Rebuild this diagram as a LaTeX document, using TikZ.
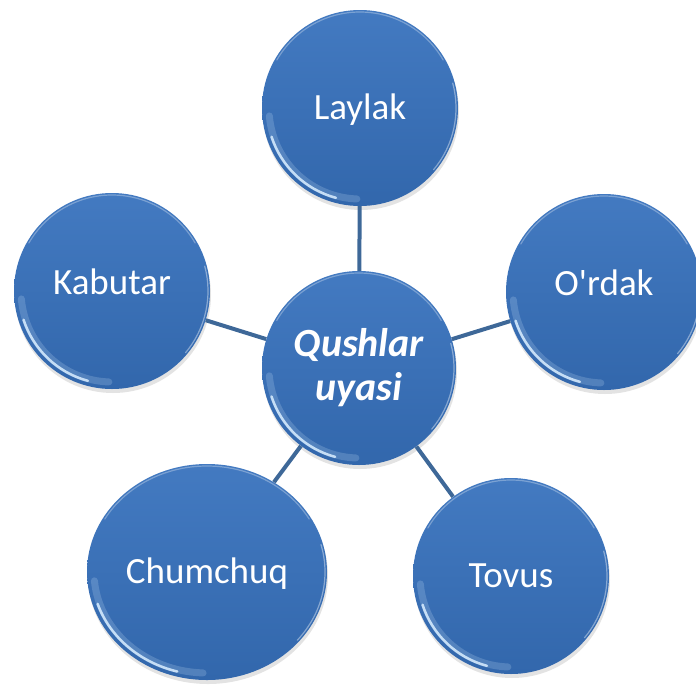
\documentclass[tikz,border=0pt]{standalone}
\usepackage{fontspec}
\setmainfont{Carlito}[Ligatures=TeXOff]
\usetikzlibrary{shapes,shadows,calc}

\definecolor{bubbletop}{RGB}{67,122,193}
\definecolor{bubblebot}{RGB}{50,103,172}
\definecolor{spoke}{RGB}{62,104,152}
\definecolor{rimlight}{RGB}{210,232,252}

\begin{document}
\begin{tikzpicture}[x=1pt,y=1pt]
	\tikzset{
		rimglow/.style={path picture={
			\draw[line width=7pt,draw=rimlight,opacity=.2,line cap=round]
				let \p1=(path picture bounding box.north east),
				    \p0=(path picture bounding box.center),
				    \n1={\x1-\x0-7pt}, \n2={\y1-\y0-7pt}
				in ($(\p0)+(185:\n1 and \n2)$) arc[start angle=185,end angle=268,x radius=\n1,y radius=\n2];
			\draw[line width=2.5pt,draw=rimlight,opacity=.9,line cap=round]
				let \p1=(path picture bounding box.north east),
				    \p0=(path picture bounding box.center),
				    \n1={\x1-\x0-5pt}, \n2={\y1-\y0-5pt}
				in ($(\p0)+(198:\n1 and \n2)$) arc[start angle=198,end angle=255,x radius=\n1,y radius=\n2];
			\draw[line width=1.2pt,draw=white,opacity=.3,line cap=round]
				let \p1=(path picture bounding box.north east),
				    \p0=(path picture bounding box.center),
				    \n1={\x1-\x0-2pt}, \n2={\y1-\y0-2pt}
				in ($(\p0)+(30:\n1 and \n2)$) arc[start angle=30,end angle=150,x radius=\n1,y radius=\n2];
			\draw[line width=1.2pt,draw=white,opacity=.4,line cap=round]
				let \p1=(path picture bounding box.north east),
				    \p0=(path picture bounding box.center),
				    \n1={\x1-\x0-2pt}, \n2={\y1-\y0-2pt}
				in ($(\p0)+(-40:\n1 and \n2)$) arc[start angle=-40,end angle=15,x radius=\n1,y radius=\n2];
		}},
		bubble/.style={circle,inner sep=0pt,minimum size=196pt,
			top color=bubbletop,bottom color=bubblebot,
			text=white,font=\fontsize{37}{42}\selectfont,
			text height=23pt,text depth=0pt,
			drop shadow={shadow xshift=1pt,shadow yshift=-4pt,opacity=.22},
			rimglow},
		lifted/.style={text depth=16pt},
		hub/.style={bubble,minimum size=194pt,align=center,
			text height=,text depth=,
			font=\bfseries\itshape\fontsize{40}{44}\selectfont},
		spoke/.style={draw=spoke,line width=4pt}
	}
	\useasboundingbox (0,0) rectangle (696,-686);

	\node[hub] (uyasi) at (359,-368) {Qushlar\\uyasi};
	\node[bubble] (laylak) at (360,-108) {Laylak};
	\node[bubble,lifted] (kabutar) at (112,-291) {Kabutar};
	\node[bubble,lifted] (ordak) at (604,-292) {O'rdak};
	\node[bubble,ellipse,minimum width=240pt,minimum height=216pt] (chumchuq) at (207,-572) {Chumchuq};
	\node[bubble] (tovus) at (511,-576) {Tovus};

	\path[spoke]
		(uyasi) edge (laylak)
		(uyasi) edge (kabutar)
		(uyasi) edge (ordak)
		(uyasi) edge (chumchuq)
		(uyasi) edge (tovus);
\end{tikzpicture}
\end{document}
